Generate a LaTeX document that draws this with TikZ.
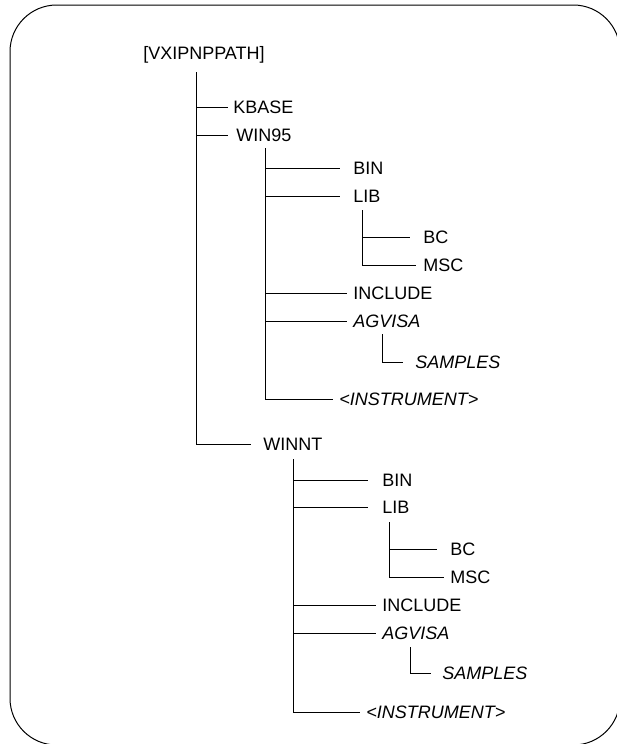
\documentclass[tikz,border=0pt]{standalone}
\usepackage{fontspec}
\setmainfont{Liberation Sans}
\usetikzlibrary{calc}
\tikzset{
  folder/.style={anchor=west, inner sep=0pt, text height=9.67pt, text depth=0pt,
    font=\fontsize{13.5}{16}\selectfont},
  folderit/.style={folder, font=\fontsize{13.5}{16}\selectfont\itshape},
  branch/.style={line width=0.75pt}
}
\begin{document}
\begin{tikzpicture}[x=0.75pt,y=-0.75pt]
\useasboundingbox (0,0) rectangle (617,744);
\clip (0,0) rectangle (617,744);
\draw[line width=0.75pt, rounded corners=35pt] (10,5) rectangle (620,745);
% top level
\node[folder] (root) at (143,53.5) {[VXIPNPPATH]};
\node[folder] (kbase) at (233,107) {KBASE};
\node[folder] (win95) at (236,135) {WIN95};
\node[folder] (winnt) at (263,444) {WINNT};
\coordinate (t0) at (196,72);
\draw[branch] (t0) |- ($(winnt.west)+(-12,0)$);
\draw[branch] (t0 |- kbase.west) -- ($(kbase.west)+(-5,0)$);
\draw[branch] (t0 |- win95.west) -- ($(win95.west)+(-8,0)$);
% WIN95
\node[folder] (bina) at (353,168) {BIN};
\node[folder] (liba) at (353,196) {LIB};
\node[folder] (bca) at (423,237) {BC};
\node[folder] (msca) at (423,265) {MSC};
\node[folder] (inca) at (353,293) {INCLUDE};
\node[folderit] (agva) at (353,321) {AGVISA};
\node[folderit] (smpa) at (415,362) {SAMPLES};
\node[folderit] (insa) at (339,399) {<INSTRUMENT>};
\coordinate (t1) at (265,148);
\draw[branch] (t1) |- ($(insa.west)+(-6,0)$);
\draw[branch] (t1 |- bina.west) -- ($(bina.west)+(-13,0)$);
\draw[branch] (t1 |- liba.west) -- ($(liba.west)+(-13,0)$);
\draw[branch] (t1 |- inca.west) -- ($(inca.west)+(-6,0)$);
\draw[branch] (t1 |- agva.west) -- ($(agva.west)+(-6,0)$);
\coordinate (t2) at (362,210);
\draw[branch] (t2) |- ($(msca.west)+(-7,0)$);
\draw[branch] (t2 |- bca.west) -- ($(bca.west)+(-13,0)$);
\coordinate (t3) at (382,334);
\draw[branch] (t3) |- ($(smpa.west)+(-12,0)$);
% WINNT
\node[folder] (binb) at (382,480) {BIN};
\node[folder] (libb) at (382,507) {LIB};
\node[folder] (bcb) at (450,549) {BC};
\node[folder] (mscb) at (450,577) {MSC};
\node[folder] (incb) at (382,605) {INCLUDE};
\node[folderit] (agvb) at (382,633) {AGVISA};
\node[folderit] (smpb) at (442,673) {SAMPLES};
\node[folderit] (insb) at (366,712) {<INSTRUMENT>};
\coordinate (t4) at (293,459);
\draw[branch] (t4) |- ($(insb.west)+(-6,0)$);
\draw[branch] (t4 |- binb.west) -- ($(binb.west)+(-14,0)$);
\draw[branch] (t4 |- libb.west) -- ($(libb.west)+(-14,0)$);
\draw[branch] (t4 |- incb.west) -- ($(incb.west)+(-6,0)$);
\draw[branch] (t4 |- agvb.west) -- ($(agvb.west)+(-6,0)$);
\coordinate (t5) at (389,522);
\draw[branch] (t5) |- ($(mscb.west)+(-6,0)$);
\draw[branch] (t5 |- bcb.west) -- ($(bcb.west)+(-13,0)$);
\coordinate (t6) at (410,647);
\draw[branch] (t6) |- ($(smpb.west)+(-11,0)$);
\end{tikzpicture}
\end{document}
